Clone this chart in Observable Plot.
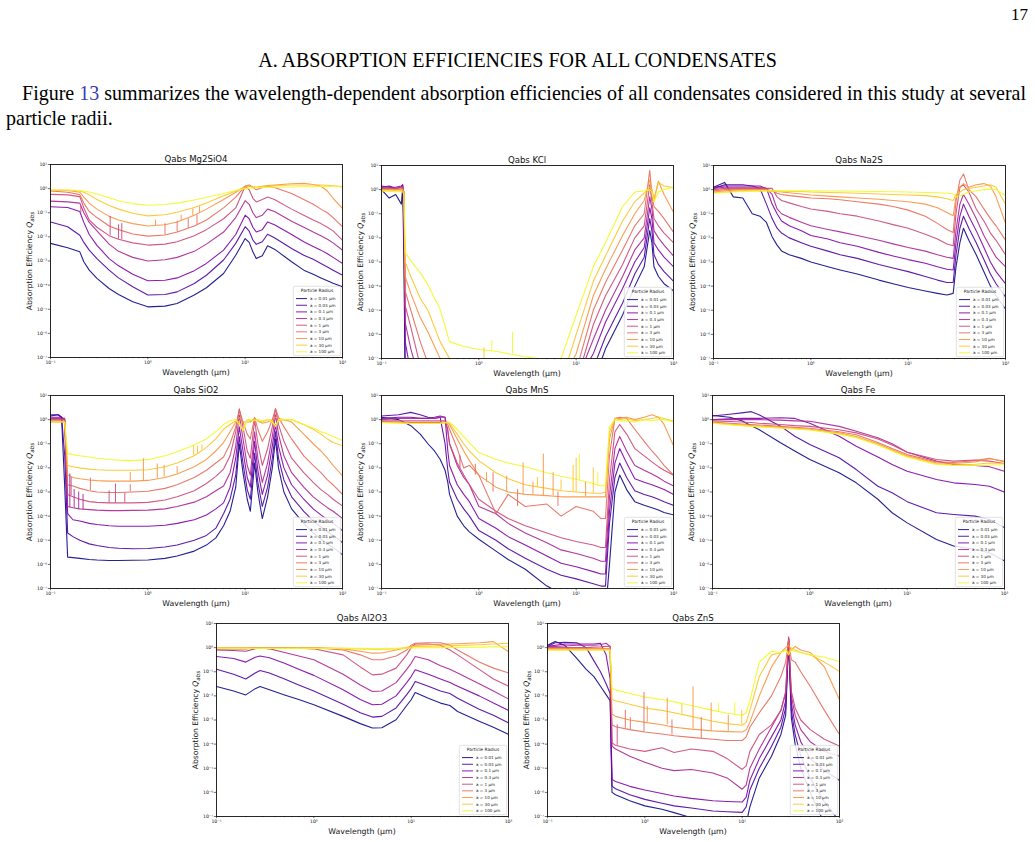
<!DOCTYPE html>
<html><head><meta charset="utf-8">
<script src="https://cdn.jsdelivr.net/npm/d3@7"></script>
<script src="https://cdn.jsdelivr.net/npm/@observablehq/plot@0.6"></script>
<style>
html,body{margin:0;padding:0;background:#fff;}
#page{position:relative;width:1035px;height:842px;overflow:hidden;font-family:"Liberation Serif","Times New Roman",serif;color:#000;}
.txt{position:absolute;white-space:nowrap;line-height:1;transform:translateY(-50%);}
.lnk{color:#3b3bb0;}
.ptitle,.xlab,.ylab{position:absolute;font-family:"DejaVu Sans",sans-serif;white-space:nowrap;color:#111;}
.ptitle{font-size:8.6px;transform:translate(-50%,-50%);}
.xlab{font-size:7.8px;transform:translate(-50%,-50%);}
.ylab{font-size:7.6px;transform:translate(-50%,-50%) rotate(-90deg);}
.ylab sub{font-size:5.6px;vertical-align:-1.5px;}
svg.leg{position:absolute;overflow:visible;}
</style></head>
<body><div id="page">
<div class="txt" id="pageno" style="top:14px;font-size:17px;">17</div>
<div class="txt" id="heading" style="top:60px;font-size:16px;">A. ABSORPTION EFFICIENCIES FOR ALL CONDENSATES</div>
<div class="txt" id="p1" style="top:93px;left:22px;font-size:18px;">Figure <span class="lnk">13</span> summarizes the wavelength-dependent absorption efficiencies of all condensates considered in this study at several</div>
<div class="txt" id="p2" style="top:118px;left:6px;font-size:18px;">particle radii.</div>
</div>
<script>
// ---------- shared series definitions ----------
const radius_labels = ["a = 0.01 μm","a = 0.03 μm","a = 0.1 μm","a = 0.3 μm","a = 1 μm","a = 3 μm","a = 10 μm","a = 30 μm","a = 100 μm"];
const radius_colors = ["#0d0887","#4c02a1","#7e03a8","#a92395","#cc4778","#e56b5d","#f89441","#fdc328","#f0f921"];

// ---------- data: wavelength grid (μm) and log10(Qabs) per radius (rows in radius order) ----------
const mg2sio4_wl = [0.1,0.15,0.2,0.22,0.25,0.3,0.4,0.5,0.7,1,1.5,2,3,4,6,8,10,11,12,13,15,17,20,30,40,50,60,70,80,100];
const mg2sio4_logQ = [
[-2.27,-2.45,-2.62,-3.03,-3.38,-3.72,-4.14,-4.39,-4.69,-4.9,-4.87,-4.76,-4.41,-4.11,-3.52,-2.76,-2.07,-2.23,-2.62,-2.9,-2.78,-2.37,-2.51,-3.03,-3.38,-3.55,-3.7,-3.82,-3.92,-4.07],
[-1.38,-1.58,-1.93,-2.23,-2.55,-2.9,-3.38,-3.7,-4.07,-4.41,-4.39,-4.28,-3.93,-3.59,-2.96,-2.27,-1.58,-1.76,-2.13,-2.31,-2.2,-1.89,-2.04,-2.48,-2.76,-2.93,-3.1,-3.25,-3.38,-3.59],
[-0.75,-0.78,-0.95,-1.4,-1.9,-2.35,-2.9,-3.2,-3.55,-3.82,-3.8,-3.7,-3.4,-3.1,-2.55,-1.9,-1.1,-1.25,-1.6,-1.8,-1.7,-1.38,-1.5,-1.9,-2.2,-2.4,-2.55,-2.7,-2.85,-3.1],
[-0.52,-0.55,-0.6,-1.0,-1.4,-1.75,-2.3,-2.6,-2.85,-3.0,-2.95,-2.85,-2.6,-2.3,-1.8,-1.2,-0.5,-0.65,-1.0,-1.2,-1.1,-0.85,-0.95,-1.35,-1.6,-1.8,-1.95,-2.1,-2.25,-2.55],
[-0.24,-0.26,-0.33,-0.8,-1.3,-1.6,-1.95,-2.1,-2.25,-2.34,-2.3,-2.2,-1.95,-1.7,-1.25,-0.8,0.1,-0.05,-0.4,-0.55,-0.45,-0.35,-0.45,-0.85,-1.1,-1.3,-1.45,-1.6,-1.75,-2.14],
[-0.1,-0.15,-0.25,-0.6,-0.95,-1.2,-1.55,-1.7,-1.88,-1.97,-1.92,-1.8,-1.55,-1.3,-0.8,-0.35,0.1,0.15,0.05,-0.05,0.05,0.1,0.05,-0.2,-0.45,-0.65,-0.85,-1.0,-1.2,-1.58],
[-0.07,-0.08,-0.15,-0.35,-0.6,-0.85,-1.15,-1.3,-1.45,-1.55,-1.5,-1.38,-1.1,-0.85,-0.45,-0.15,0.1,0.12,0.08,0.05,0.1,0.13,0.15,0.2,0.22,0.17,0.1,-0.1,-0.4,-0.82],
[-0.07,-0.07,-0.1,-0.15,-0.25,-0.45,-0.7,-0.85,-1.02,-1.13,-1.08,-0.98,-0.78,-0.6,-0.3,-0.1,0.05,0.1,0.07,0.05,0.08,0.1,0.12,0.15,0.15,0.15,0.15,0.14,0.12,0.07],
[-0.06,-0.06,-0.08,-0.1,-0.14,-0.22,-0.38,-0.5,-0.62,-0.69,-0.66,-0.6,-0.47,-0.36,-0.2,-0.08,0.0,0.02,0.03,0.04,0.05,0.05,0.06,0.07,0.08,0.08,0.09,0.09,0.1,0.1]
];
// narrow resonance spikes: radius index, wavelength, base and top log10(Qabs)
const mg2sio4_spikes = [
{r:4,wl:0.205,lo:-1.0,hi:-0.72},{r:4,wl:0.41,lo:-1.95,hi:-1.15},{r:4,wl:0.5,lo:-2.1,hi:-1.5},{r:4,wl:0.54,lo:-2.12,hi:-1.45},
{r:5,wl:1.5,lo:-1.92,hi:-1.45},{r:5,wl:2.0,lo:-1.8,hi:-1.35},{r:5,wl:2.6,lo:-1.65,hi:-1.25},{r:5,wl:3.2,lo:-1.5,hi:-1.1},
{r:6,wl:1.2,lo:-1.53,hi:-1.3},{r:6,wl:2.2,lo:-1.35,hi:-1.1},{r:6,wl:2.9,lo:-1.12,hi:-0.85},{r:6,wl:3.4,lo:-1.0,hi:-0.75}
];

const kcl_wl = [0.1,0.12,0.14,0.16,0.165,0.17,0.175,0.2,0.25,0.3,0.4,0.5,0.7,1,1.5,2,3,4,5,7,10,15,20,30,40,50,57,60,63,70,80,100];
const kcl_logQ = [
[0.0,-0.35,-0.2,-0.6,0.1,-3.0,-8,-8,-8,-8,-8,-8,-8,-8,-8,-8,-8,-8,-8,-8,-8,-8,-6.6,-5.2,-4.0,-3.2,-1.7,-2.2,-3.2,-3.6,-3.9,-4.2],
[0.1,0.15,0.05,0.1,0.2,-1.5,-7.5,-8,-8,-8,-8,-8,-8,-8,-8,-8,-8,-8,-8,-8,-8,-7.4,-6.1,-4.7,-3.5,-2.8,-1.2,-1.7,-2.7,-3.1,-3.4,-3.8],
[0.15,0.1,0.1,0.15,0.2,-0.5,-6.3,-7.6,-8,-8,-8,-8,-8,-8,-8,-8,-8,-8,-8,-8,-8,-6.8,-5.5,-4.1,-3.0,-2.4,-0.75,-1.2,-2.2,-2.5,-2.8,-3.2],
[0.1,0.1,0.05,0.1,0.15,-0.2,-5.5,-6.6,-8,-8,-8,-8,-8,-8,-8,-8,-8,-8,-8,-8,-8,-6.2,-5.0,-3.6,-2.5,-2.0,-0.3,-0.8,-1.7,-2.0,-2.3,-2.75],
[0.05,0.05,0.05,0.1,0.1,-0.1,-4.8,-5.7,-7.3,-8,-8,-8,-8,-8,-8,-8,-8,-8,-8,-8,-8,-5.6,-4.4,-3.1,-2.0,-1.5,0.2,-0.5,-1.2,-1.5,-1.8,-2.2],
[0.0,0.0,0.0,0.05,0.05,-0.1,-4.2,-5.0,-6.3,-7.2,-8,-8,-8,-8,-8,-8,-8,-8,-8,-8,-7.5,-5.0,-3.85,-2.5,-1.5,-1.0,0.8,-0.2,-0.7,-0.9,-1.2,-1.77],
[0.0,0.0,0.0,0.0,0.0,-0.1,-3.6,-4.3,-5.3,-5.9,-7.0,-8,-8,-8,-8,-8,-8,-8,-8,-8,-6.8,-4.4,-3.3,-1.9,-1.0,-0.45,0.4,0.0,-0.4,0.35,-0.2,-0.94],
[-0.05,-0.05,-0.05,-0.05,-0.05,-0.1,-3.0,-3.6,-4.5,-5.0,-6.3,-7.0,-8,-8,-8,-8,-8,-8,-8,-8,-6.0,-3.8,-2.75,-1.3,-0.5,-0.15,0.1,0.0,-0.5,0.3,0.15,0.08],
[-0.05,-0.05,-0.1,-0.08,-0.1,-0.2,-2.6,-2.95,-3.45,-3.95,-4.95,-6.3,-6.5,-6.63,-6.7,-6.8,-6.93,-7.0,-7.2,-7.0,-5.2,-3.2,-2.2,-0.7,-0.1,-0.05,0.0,-0.1,-0.5,-0.1,0.0,0.1]
];
const kcl_spikes = [
{r:8,wl:1.36,lo:-6.68,hi:-6.25},{r:8,wl:2.22,lo:-6.8,hi:-5.93},{r:7,wl:1.13,lo:-7.1,hi:-6.56}
];

const na2s_wl = [0.1,0.13,0.16,0.2,0.25,0.3,0.35,0.4,0.45,0.5,0.6,0.8,1,1.5,2,3,5,7,10,15,20,25,29,31,34,37,42,50,60,70,80,100];
const na2s_logQ = [
[0.1,0.3,-0.3,-0.35,-1.0,-1.1,-1.36,-1.95,-2.3,-2.54,-2.7,-2.85,-3.0,-3.2,-3.33,-3.5,-3.75,-3.9,-4.06,-4.2,-4.3,-4.37,-4.3,-3.2,-2.2,-1.6,-2.1,-2.7,-3.4,-4.0,-4.4,-4.95],
[0.05,0.2,0.2,0.2,0.15,0.05,-0.6,-1.2,-1.6,-1.8,-2.0,-2.2,-2.35,-2.55,-2.7,-2.85,-3.1,-3.25,-3.4,-3.6,-3.75,-3.85,-3.85,-2.7,-1.6,-1.1,-1.6,-2.2,-2.9,-3.5,-3.9,-4.45],
[0.1,0.15,0.15,0.15,0.15,0.15,0.05,-0.6,-1.0,-1.3,-1.5,-1.7,-1.9,-2.05,-2.2,-2.35,-2.6,-2.75,-2.9,-3.05,-3.2,-3.3,-3.33,-2.2,-1.1,-0.6,-1.1,-1.7,-2.4,-3.0,-3.4,-3.9],
[0.05,0.1,0.1,0.1,0.1,0.1,0.05,-0.2,-0.8,-1.0,-1.15,-1.35,-1.5,-1.65,-1.75,-1.9,-2.1,-2.25,-2.4,-2.55,-2.7,-2.8,-2.85,-1.7,-0.6,-0.2,-0.6,-1.2,-1.9,-2.4,-2.8,-3.2],
[0.0,0.05,0.05,0.05,0.05,0.05,0.05,0.05,-0.3,-0.45,-0.55,-0.7,-0.8,-0.9,-1.0,-1.1,-1.3,-1.45,-1.6,-1.85,-2.05,-2.25,-2.33,-1.0,0.1,0.2,-0.1,-0.8,-1.3,-1.8,-2.1,-2.7],
[-0.05,0.0,0.0,0.0,0.0,0.0,0.0,-0.05,-0.15,-0.2,-0.25,-0.3,-0.35,-0.38,-0.42,-0.5,-0.6,-0.7,-0.85,-1.1,-1.4,-1.65,-1.78,-0.5,0.4,0.65,0.0,-0.3,-0.8,-1.2,-1.5,-2.1],
[-0.1,-0.05,-0.02,0.0,0.0,0.0,-0.02,-0.05,-0.08,-0.1,-0.13,-0.18,-0.22,-0.27,-0.3,-0.35,-0.4,-0.45,-0.5,-0.6,-0.75,-0.95,-1.08,-0.3,0.1,0.25,0.1,0.2,0.25,0.15,-0.3,-1.4],
[-0.12,-0.1,-0.08,-0.05,-0.05,-0.05,-0.05,-0.05,-0.06,-0.07,-0.08,-0.08,-0.1,-0.12,-0.13,-0.15,-0.18,-0.2,-0.22,-0.25,-0.3,-0.38,-0.45,-0.2,-0.1,0.0,0.05,0.1,0.15,0.2,0.1,-0.6],
[-0.15,-0.12,-0.1,-0.08,-0.06,-0.05,-0.05,-0.05,-0.05,-0.05,-0.05,-0.05,-0.05,-0.06,-0.06,-0.07,-0.08,-0.09,-0.1,-0.12,-0.13,-0.15,-0.17,-0.3,-0.25,-0.2,-0.1,-0.05,0.0,0.02,0.0,-0.25]
];

const sio2_wl = [0.1,0.12,0.13,0.14,0.15,0.17,0.2,0.25,0.3,0.4,0.5,0.7,1,1.5,2,3,4,5,6,7,8,8.7,9.5,10.5,11.3,12.5,13.5,15,17,19,20.5,22,25,30,40,50,60,70,80,100];
const sio2_logQ = [
[0.15,0.2,0.1,-2.8,-5.7,-5.72,-5.75,-5.8,-5.82,-5.84,-5.84,-5.83,-5.82,-5.75,-5.65,-5.45,-5.2,-4.9,-4.4,-3.8,-2.8,-1.0,-2.2,-3.3,-3.8,-1.8,-3.0,-4.1,-3.2,-2.0,-0.8,-2.0,-3.0,-3.7,-4.3,-4.7,-4.95,-5.15,-5.3,-5.6],
[0.2,0.2,0.1,-1.5,-4.7,-4.85,-5.0,-5.15,-5.22,-5.3,-5.33,-5.35,-5.34,-5.28,-5.2,-5.0,-4.8,-4.5,-3.9,-3.3,-2.3,-0.7,-1.8,-2.9,-3.3,-1.4,-2.6,-3.6,-2.8,-1.6,-0.5,-1.6,-2.5,-3.2,-3.8,-4.2,-4.45,-4.65,-4.8,-5.1],
[0.1,0.1,0.1,0.0,-3.9,-4.15,-4.2,-4.3,-4.35,-4.4,-4.42,-4.42,-4.42,-4.38,-4.3,-4.15,-3.95,-3.7,-3.45,-2.8,-1.6,-0.3,-1.3,-2.4,-2.8,-0.9,-2.1,-3.1,-2.3,-1.1,-0.2,-1.1,-2.0,-2.7,-3.3,-3.7,-3.95,-4.15,-4.3,-4.6],
[0.05,0.05,0.05,0.05,-3.6,-3.65,-3.7,-3.73,-3.75,-3.77,-3.77,-3.76,-3.75,-3.7,-3.6,-3.42,-3.2,-2.95,-2.75,-2.2,-1.1,0.2,-0.8,-1.9,-2.3,-0.5,-1.6,-2.6,-1.8,-0.7,0.2,-0.6,-1.5,-2.2,-2.8,-3.2,-3.45,-3.65,-3.8,-4.1],
[0.0,0.0,0.0,0.0,-3.1,-3.2,-3.3,-3.4,-3.43,-3.45,-3.45,-3.45,-3.43,-3.33,-3.2,-2.95,-2.65,-2.35,-2.05,-1.5,-0.5,0.45,-0.3,-1.3,-1.6,0.0,-1.0,-1.9,-1.2,-0.3,0.45,-0.2,-0.9,-1.6,-2.2,-2.6,-2.9,-3.1,-3.3,-3.58],
[-0.05,-0.05,-0.05,-0.05,-2.7,-2.75,-2.85,-2.95,-3.0,-3.02,-3.02,-3.0,-2.97,-2.85,-2.7,-2.4,-2.1,-1.8,-1.55,-1.0,-0.3,0.4,-0.1,-0.6,-0.8,0.1,-0.4,-0.9,-0.5,0.0,0.45,0.1,-0.3,-0.8,-1.5,-1.9,-2.2,-2.5,-2.7,-3.1],
[-0.1,-0.1,-0.1,-0.1,-2.3,-2.4,-2.45,-2.5,-2.53,-2.55,-2.55,-2.55,-2.52,-2.4,-2.25,-1.95,-1.65,-1.3,-0.95,-0.5,-0.1,0.1,-0.1,-0.1,-0.1,0.05,-0.05,-0.15,-0.1,0.0,0.1,0.05,0.0,-0.1,-0.6,-1.0,-1.3,-1.6,-1.9,-2.33],
[-0.1,-0.1,-0.1,-0.1,-1.9,-1.95,-2.0,-2.05,-2.08,-2.1,-2.1,-2.1,-2.08,-1.95,-1.8,-1.5,-1.15,-0.8,-0.4,-0.2,-0.05,-0.1,-0.45,0.0,-0.05,0.0,-0.05,-0.1,0.0,-0.05,-0.3,-0.05,0.0,0.0,-0.2,-0.4,-0.6,-0.8,-0.95,-1.08],
[-0.1,-0.1,-0.1,-0.1,-1.4,-1.45,-1.5,-1.55,-1.6,-1.65,-1.68,-1.7,-1.66,-1.5,-1.33,-1.05,-0.8,-0.5,-0.2,-0.05,0.0,-0.2,-0.45,0.0,0.0,-0.05,0.0,-0.05,0.0,-0.1,-0.25,0.0,0.0,0.0,-0.2,-0.35,-0.5,-0.6,-0.7,-0.87]
];
const sio2_spikes = [
{r:3,wl:0.158,lo:-3.65,hi:-2.25},{r:4,wl:0.163,lo:-3.15,hi:-2.4},{r:3,wl:0.175,lo:-3.67,hi:-2.9},{r:3,wl:0.195,lo:-3.7,hi:-3.0},{r:3,wl:0.216,lo:-3.72,hi:-3.1},
{r:5,wl:0.257,lo:-2.95,hi:-2.42},{r:4,wl:0.4,lo:-3.45,hi:-2.95},{r:4,wl:0.465,lo:-3.45,hi:-2.67},{r:5,wl:0.66,lo:-3.0,hi:-2.7},{r:4,wl:0.58,lo:-3.45,hi:-3.05},
{r:6,wl:0.66,lo:-2.55,hi:-2.19},{r:6,wl:0.9,lo:-2.53,hi:-1.62},{r:6,wl:1.25,lo:-2.45,hi:-1.84},{r:6,wl:1.47,lo:-2.38,hi:-1.9},{r:6,wl:2.0,lo:-2.25,hi:-1.95},
{r:7,wl:2.96,lo:-1.5,hi:-1.08},{r:7,wl:3.24,lo:-1.4,hi:-1.1},{r:7,wl:3.6,lo:-1.25,hi:-1.05}
];

const mns_wl = [0.1,0.15,0.2,0.25,0.3,0.35,0.4,0.45,0.48,0.5,0.6,0.7,0.8,1,1.5,2,3,5,7,10,15,18,20,22,25,28,33,40,50,60,70,80,100];
const mns_logQ = [
[0.1,0.0,-0.25,-0.6,-1.0,-1.3,-1.64,-2.1,-2.6,-3.1,-4.0,-4.4,-4.65,-4.96,-5.45,-5.8,-6.2,-6.9,-7.2,-7.5,-7.8,-8,-8,-6.0,-3.0,-2.3,-2.9,-3.4,-3.55,-3.65,-3.75,-3.85,-3.95],
[0.15,0.2,0.3,0.2,0.1,0.05,0.1,-1.0,-2.1,-2.6,-3.3,-3.7,-4.0,-4.6,-5.0,-5.35,-5.75,-6.2,-6.45,-6.6,-6.8,-6.9,-6.9,-4.3,-2.4,-1.8,-2.4,-2.95,-3.1,-3.2,-3.3,-3.4,-3.55],
[0.05,0.1,0.1,0.05,0.05,0.1,0.15,0.1,-1.3,-1.9,-2.7,-3.1,-3.4,-4.1,-4.5,-4.85,-5.2,-5.65,-5.95,-6.1,-6.3,-6.4,-6.4,-3.8,-1.8,-1.2,-1.8,-2.45,-2.6,-2.7,-2.8,-2.9,-3.1],
[0.0,0.05,0.05,0.05,0.05,0.05,0.1,0.1,-0.5,-1.0,-1.9,-2.4,-2.7,-3.6,-3.9,-4.3,-4.7,-5.1,-5.4,-5.55,-5.75,-5.87,-5.87,-3.2,-1.2,-0.7,-1.3,-1.9,-2.1,-2.25,-2.4,-2.55,-2.75],
[-0.05,-0.05,-0.05,-0.05,-0.05,-0.05,-0.05,-0.05,-0.4,-1.0,-1.8,-2.3,-2.7,-3.3,-3.8,-4.1,-4.4,-4.7,-4.9,-5.05,-5.2,-5.3,-5.3,-2.5,-0.5,-0.2,-0.6,-1.2,-1.5,-1.75,-1.95,-2.1,-2.3],
[-0.08,-0.1,-0.12,-0.12,-0.12,-0.12,-0.12,-0.1,-0.2,-0.4,-1.2,-2.0,-1.9,-2.3,-3.9,-3.1,-3.6,-3.5,-4.0,-3.6,-3.8,-4.1,-4.1,-1.5,0.05,0.1,0.05,-0.4,-0.9,-1.3,-1.6,-1.9,-2.3],
[-0.1,-0.12,-0.15,-0.15,-0.15,-0.15,-0.15,-0.12,-0.1,-0.2,-0.8,-1.3,-1.7,-2.3,-2.8,-3.0,-3.1,-3.15,-3.2,-3.2,-3.2,-3.2,-3.2,-0.8,0.05,0.05,0.1,0.0,0.1,0.2,0.1,-0.2,-1.08],
[-0.12,-0.14,-0.16,-0.16,-0.16,-0.16,-0.15,-0.13,-0.12,-0.15,-0.6,-1.0,-1.3,-1.7,-2.2,-2.45,-2.7,-2.85,-2.95,-3.0,-3.05,-3.05,-3.0,-0.5,0.05,0.0,0.05,-0.05,0.0,0.05,0.1,0.05,-0.05],
[-0.12,-0.14,-0.16,-0.16,-0.16,-0.16,-0.15,-0.13,-0.12,-0.1,-0.4,-0.7,-0.95,-1.36,-1.65,-1.8,-1.95,-2.2,-2.35,-2.47,-2.65,-2.75,-2.7,-0.3,0.0,-0.05,-0.05,-0.1,0.0,-0.05,0.0,0.0,-0.1]
];
const mns_spikes = [
{r:6,wl:4.6,lo:-3.15,hi:-1.43},{r:6,wl:2.85,lo:-3.1,hi:-1.8},{r:7,wl:10,lo:-3.0,hi:-1.6},{r:8,wl:10.8,lo:-2.5,hi:-1.45},{r:7,wl:9.3,lo:-3.0,hi:-1.9},
{r:5,wl:1.4,lo:-3.0,hi:-2.2},{r:5,wl:0.92,lo:-2.3,hi:-1.85},{r:4,wl:0.64,lo:-2.0,hi:-1.5},{r:6,wl:1.93,lo:-3.0,hi:-2.35},{r:6,wl:5.8,lo:-3.15,hi:-2.2},
{r:7,wl:15,lo:-3.05,hi:-2.0},{r:8,wl:16.7,lo:-2.7,hi:-2.2},{r:6,wl:1.2,lo:-2.6,hi:-2.2},{r:6,wl:3.6,lo:-3.1,hi:-2.6},{r:7,wl:7,lo:-2.95,hi:-2.5},
{r:5,wl:2.5,lo:-3.6,hi:-2.9},{r:5,wl:6.5,lo:-3.6,hi:-3.0},{r:6,wl:12.5,lo:-3.2,hi:-2.6},{r:7,wl:4,lo:-2.8,hi:-2.4}
];

const fe_wl = [0.1,0.15,0.2,0.25,0.3,0.5,0.7,1,2,3,5,7,10,20,30,50,70,100];
const fe_logQ = [
[0.17,0.1,-0.05,-0.25,-0.41,-0.96,-1.3,-1.65,-2.2,-2.62,-3.3,-3.86,-4.28,-4.97,-5.24,-5.38,-5.52,-5.86],
[0.15,0.22,0.28,0.33,0.2,-0.27,-0.69,-1.03,-1.58,-2.07,-2.76,-3.03,-3.4,-3.86,-3.93,-4.0,-4.14,-4.48],
[0.0,0.03,0.05,0.05,0.05,0.08,0.05,-0.15,-0.69,-1.1,-1.55,-1.86,-2.14,-2.48,-2.62,-2.69,-2.76,-3.0],
[0.0,0.0,0.0,0.0,0.0,-0.02,-0.05,-0.07,-0.28,-0.48,-0.75,-1.0,-1.35,-1.72,-1.86,-1.9,-1.95,-2.14],
[-0.05,-0.08,-0.1,-0.12,-0.15,-0.2,-0.25,-0.28,-0.42,-0.55,-0.8,-1.05,-1.35,-1.65,-1.72,-1.68,-1.72,-1.82],
[-0.1,-0.15,-0.18,-0.2,-0.22,-0.28,-0.32,-0.36,-0.5,-0.63,-0.95,-1.2,-1.45,-1.75,-1.78,-1.7,-1.6,-1.75],
[-0.12,-0.18,-0.22,-0.25,-0.27,-0.32,-0.36,-0.4,-0.55,-0.7,-1.0,-1.25,-1.5,-1.8,-1.82,-1.75,-1.62,-1.72],
[-0.14,-0.2,-0.24,-0.27,-0.29,-0.34,-0.38,-0.42,-0.58,-0.73,-1.03,-1.28,-1.53,-1.83,-1.88,-1.85,-1.8,-1.82],
[-0.15,-0.21,-0.25,-0.28,-0.3,-0.35,-0.39,-0.43,-0.6,-0.75,-1.05,-1.3,-1.56,-1.86,-1.9,-1.9,-1.88,-1.87]
];

const al2o3_wl = [0.1,0.15,0.2,0.25,0.28,0.35,0.5,0.7,1,2,3,4,5,7,9,10,11,15,20,25,30,50,70,100];
const al2o3_logQ = [
[-1.61,-1.8,-1.96,-1.7,-1.61,-1.75,-1.96,-2.15,-2.37,-2.85,-3.15,-3.33,-3.32,-2.99,-2.4,-2.16,-1.86,-2.1,-2.3,-2.4,-2.65,-3.05,-3.3,-3.6],
[-0.9,-1.1,-1.3,-1.05,-0.95,-1.05,-1.3,-1.55,-1.8,-2.35,-2.7,-2.88,-2.85,-2.5,-1.95,-1.7,-1.4,-1.6,-1.8,-1.9,-2.1,-2.55,-2.8,-3.12],
[-0.37,-0.45,-0.6,-0.4,-0.35,-0.42,-0.65,-0.9,-1.15,-1.75,-2.15,-2.37,-2.35,-2.0,-1.45,-1.2,-0.92,-1.1,-1.3,-1.45,-1.6,-2.0,-2.3,-2.6],
[-0.1,-0.12,-0.15,-0.05,0.0,-0.05,-0.2,-0.35,-0.5,-1.1,-1.55,-1.82,-1.8,-1.45,-0.9,-0.65,-0.37,-0.5,-0.75,-0.9,-1.05,-1.5,-1.8,-2.13],
[-0.05,-0.05,-0.05,0.0,0.0,0.0,0.0,-0.02,-0.05,-0.3,-0.8,-1.13,-1.1,-0.85,-0.3,0.0,0.15,0.15,0.1,-0.1,-0.3,-0.9,-1.3,-1.6],
[-0.02,-0.02,-0.02,0.0,0.0,0.0,0.0,0.0,0.0,-0.1,-0.3,-0.5,-0.5,-0.35,-0.1,0.1,0.18,0.2,0.2,0.1,-0.1,-0.6,-0.85,-1.05],
[-0.02,-0.02,-0.02,-0.02,-0.02,-0.02,-0.02,0.0,0.0,-0.05,-0.15,-0.23,-0.22,-0.1,0.0,0.05,0.1,0.12,0.14,0.15,0.16,0.2,0.25,-0.17],
[-0.02,-0.02,-0.02,-0.02,-0.02,-0.02,-0.02,-0.02,-0.02,-0.03,-0.05,-0.07,-0.07,-0.05,0.0,0.03,0.05,0.06,0.07,0.08,0.09,0.12,0.15,0.18],
[-0.03,-0.03,-0.03,-0.03,-0.03,-0.03,-0.03,-0.03,-0.03,-0.03,-0.03,-0.04,-0.04,-0.03,-0.02,-0.02,-0.01,0.0,0.0,0.01,0.01,0.02,0.03,0.04]
];

const zns_wl = [0.1,0.12,0.15,0.2,0.25,0.3,0.35,0.4,0.44,0.46,0.5,0.7,1,1.5,2,3,5,7,10,11,12,15,20,25,28,30,32,35,40,50,70,100];
const zns_logQ = [
[0.1,0.25,0.1,-0.45,-0.9,-1.2,-1.6,-1.95,-2.2,-6.0,-6.1,-6.35,-6.56,-6.7,-6.84,-7.05,-7.3,-7.5,-7.6,-7.3,-6.6,-5.4,-4.5,-3.6,-2.8,0.3,-2.9,-4.0,-5.0,-6.0,-7.3,-8],
[0.05,0.2,0.22,0.2,0.0,-0.55,-1.0,-1.5,-1.9,-5.74,-5.85,-6.1,-6.29,-6.45,-6.56,-6.65,-6.77,-6.8,-6.83,-6.6,-5.9,-5.0,-4.1,-3.3,-2.5,0.35,-2.6,-3.6,-4.5,-5.4,-6.4,-7.2],
[0.05,0.1,0.15,0.15,0.15,0.15,0.18,-0.3,-1.3,-5.46,-5.55,-5.75,-5.9,-6.05,-6.15,-6.25,-6.35,-6.38,-6.4,-6.2,-5.5,-4.6,-3.7,-3.0,-2.2,0.4,-2.3,-3.2,-3.9,-4.6,-5.1,-5.5],
[0.05,0.05,0.07,0.1,0.1,0.1,0.12,0.18,0.05,-4.08,-4.2,-4.5,-4.75,-5.0,-5.1,-5.05,-5.2,-5.4,-5.87,-5.7,-5.0,-4.2,-3.3,-2.6,-1.9,0.4,-2.0,-2.8,-3.4,-3.9,-4.3,-4.5],
[0.0,0.0,0.0,0.0,0.0,0.02,0.03,0.05,0.05,-3.95,-4.05,-4.2,-4.3,-4.15,-4.35,-4.2,-4.3,-4.6,-5.05,-4.9,-4.3,-3.6,-3.2,-2.6,-1.8,0.45,-1.8,-2.5,-3.0,-3.4,-3.8,-4.08],
[-0.05,-0.05,-0.05,-0.05,-0.05,-0.05,-0.05,-0.05,-0.05,-3.2,-3.28,-3.4,-3.5,-3.58,-3.65,-3.72,-3.8,-3.85,-3.85,-3.7,-3.3,-2.7,-2.0,-1.2,-0.6,0.3,-0.5,-0.6,-1.0,-1.6,-2.6,-3.6],
[-0.05,-0.05,-0.05,-0.05,-0.05,-0.05,-0.05,-0.05,-0.05,-2.75,-2.85,-3.0,-3.1,-3.2,-3.3,-3.38,-3.45,-3.48,-3.5,-3.4,-3.1,-2.0,-0.8,-0.2,0.0,0.1,-0.1,0.05,-0.1,-0.2,-0.8,-2.16],
[-0.1,-0.1,-0.1,-0.1,-0.1,-0.1,-0.1,-0.1,-0.1,-2.15,-2.2,-2.35,-2.5,-2.6,-2.7,-2.85,-3.05,-3.15,-3.22,-3.1,-2.6,-1.2,-0.3,-0.2,-0.1,-0.2,0.0,-0.1,-0.2,-0.3,-0.6,-0.99],
[-0.1,-0.1,-0.1,-0.1,-0.1,-0.1,-0.1,-0.1,-0.1,-1.7,-1.75,-1.9,-2.05,-2.15,-2.25,-2.4,-2.6,-2.72,-2.8,-2.7,-2.2,-0.6,-0.15,-0.2,-0.1,-0.3,-0.1,-0.15,-0.2,-0.3,-0.4,-0.58]
];
const zns_spikes = [
{r:5,wl:0.98,lo:-3.5,hi:-1.86},{r:6,wl:1.7,lo:-3.2,hi:-2.1},{r:6,wl:3.13,lo:-3.38,hi:-1.63},{r:8,wl:5.7,lo:-2.65,hi:-2.3},{r:8,wl:8.4,lo:-2.78,hi:-2.28},
{r:5,wl:0.63,lo:-3.35,hi:-2.6},{r:5,wl:0.71,lo:-3.4,hi:-2.9},{r:4,wl:0.52,lo:-4.05,hi:-3.2},{r:5,wl:1.9,lo:-3.62,hi:-3.0},{r:5,wl:3.8,lo:-3.77,hi:-2.9},
{r:7,wl:9.9,lo:-3.2,hi:-2.6},{r:6,wl:7.2,lo:-3.47,hi:-2.8},{r:6,wl:1.06,lo:-3.1,hi:-2.45},{r:6,wl:4.8,lo:-3.45,hi:-2.3},{r:7,wl:2.4,lo:-2.75,hi:-2.35}
];

// ---------- axis tick values ----------
const x_major_ticks = [0.1, 1, 10, 100];
const x_minor_ticks = [0.2,0.3,0.4,0.5,0.6,0.7,0.8,0.9,2,3,4,5,6,7,8,9,20,30,40,50,60,70,80,90];
const y_major_ticks = [1e-7,1e-6,1e-5,1e-4,1e-3,1e-2,1e-1,1,10];

// ---------- layout ----------
const panels = [
  {title:"Qabs Mg2SiO4", left:50,  top:164, wl:mg2sio4_wl, logQ:mg2sio4_logQ, spikes:mg2sio4_spikes},
  {title:"Qabs KCl",     left:381, top:165, wl:kcl_wl,     logQ:kcl_logQ,     spikes:kcl_spikes},
  {title:"Qabs Na2S",    left:713, top:165, wl:na2s_wl,    logQ:na2s_logQ,    spikes:[]},
  {title:"Qabs SiO2",    left:50,  top:395, wl:sio2_wl,    logQ:sio2_logQ,    spikes:sio2_spikes},
  {title:"Qabs MnS",     left:381, top:395, wl:mns_wl,     logQ:mns_logQ,     spikes:mns_spikes},
  {title:"Qabs Fe",      left:712, top:395, wl:fe_wl,      logQ:fe_logQ,      spikes:[]},
  {title:"Qabs Al2O3",   left:216, top:623, wl:al2o3_wl,   logQ:al2o3_logQ,   spikes:[]},
  {title:"Qabs ZnS",     left:547, top:623, wl:zns_wl,     logQ:zns_logQ,     spikes:zns_spikes}
];
const FW = 292, FH = 193, ML = 24, MR = 4, MT = 4, MB = 12;
const SUP = {"-":"⁻","0":"⁰","1":"¹","2":"²","3":"³","4":"⁴","5":"⁵","6":"⁶","7":"⁷","8":"⁸","9":"⁹"};
const pow10 = d => "10" + String(Math.round(Math.log10(d))).replace(/./g, c => SUP[c]);

const page = document.getElementById("page");

// fit page text widths to the reference typesetting
function fitWidth(el, target) {
  const w = el.getBoundingClientRect().width;
  el.style.fontSize = (parseFloat(getComputedStyle(el).fontSize) * target / w) + "px";
}
const heading = document.getElementById("heading");
fitWidth(heading, 519);
heading.style.left = (517.5 - heading.getBoundingClientRect().width / 2) + "px";
const p1 = document.getElementById("p1");
fitWidth(p1, 1005);
document.getElementById("p2").style.fontSize = p1.style.fontSize;
const pn = document.getElementById("pageno");
pn.style.left = (1028 - pn.getBoundingClientRect().width) + "px";

panels.forEach(p => {
  const rows = [];
  p.logQ.forEach((series, i) => {
    if (series.length !== p.wl.length) console.warn(p.title, i, series.length, p.wl.length);
    series.forEach((v, j) => rows.push({wl: p.wl[j], q: Math.pow(10, v), radius: radius_labels[i]}));
  });
  const spikeRows = p.spikes.map(s => ({wl: s.wl, lo: Math.pow(10, s.lo), hi: Math.pow(10, s.hi), radius: radius_labels[s.r]}));
  const chart = Plot.plot({
    width: FW + ML + MR, height: FH + MT + MB,
    marginLeft: ML, marginRight: MR, marginTop: MT, marginBottom: MB,
    style: {fontFamily: "DejaVu Sans, sans-serif", fontSize: "4.6px", color: "#111", background: "transparent", overflow: "visible"},
    x: {type: "log", domain: [0.1, 100]},
    y: {type: "log", domain: [1e-7, 10]},
    color: {domain: radius_labels, range: radius_colors},
    marks: [
      Plot.line(rows, {x: "wl", y: "q", z: "radius", stroke: "radius", strokeWidth: 1.1, strokeOpacity: 0.9, clip: true}),
      Plot.ruleX(spikeRows, {x: "wl", y1: "lo", y2: "hi", stroke: "radius", strokeWidth: 1, strokeOpacity: 0.9, clip: true}),
      Plot.axisX({ticks: x_minor_ticks, tickSize: 1.2, tickFormat: () => "", label: null, strokeWidth: 0.5}),
      Plot.axisX({ticks: x_major_ticks, tickSize: 2.2, tickPadding: 1.2, tickFormat: pow10, label: null, strokeWidth: 0.6}),
      Plot.axisY({ticks: y_major_ticks, tickSize: 2.2, tickPadding: 1.2, tickFormat: pow10, label: null, strokeWidth: 0.6}),
      Plot.frame({stroke: "#111", strokeWidth: 0.9})
    ]
  });
  chart.style.position = "absolute";
  chart.style.left = (p.left - ML) + "px";
  chart.style.top = (p.top - MT) + "px";
  page.appendChild(chart);

  const t = document.createElement("div");
  t.className = "ptitle"; t.textContent = p.title;
  t.style.left = (p.left + FW / 2) + "px"; t.style.top = (p.top - 5.5) + "px";
  page.appendChild(t);

  const xl = document.createElement("div");
  xl.className = "xlab"; xl.textContent = "Wavelength (μm)";
  xl.style.left = (p.left + FW / 2) + "px"; xl.style.top = (p.top + FH + 15) + "px";
  page.appendChild(xl);

  const yl = document.createElement("div");
  yl.className = "ylab"; yl.innerHTML = "Absorption Efficiency <i>Q</i><sub><i>abs</i></sub>";
  yl.style.left = (p.left - 20) + "px"; yl.style.top = (p.top + FH / 2) + "px";
  page.appendChild(yl);

  // legend box (lower right inside the frame)
  const LW = 48, LH = 70;
  const lg = d3.select(page).append("svg").attr("class", "leg")
    .attr("width", LW).attr("height", LH)
    .style("left", (p.left + FW - LW - 1.5) + "px").style("top", (p.top + FH - LH - 1.5) + "px");
  lg.append("rect").attr("x", 0.3).attr("y", 0.3).attr("width", LW - 0.6).attr("height", LH - 0.6)
    .attr("rx", 1.5).attr("fill", "#fff").attr("fill-opacity", 0.85).attr("stroke", "#cfcfcf").attr("stroke-width", 0.6);
  lg.append("text").attr("x", LW / 2).attr("y", 6.2).attr("text-anchor", "middle")
    .attr("font-family", "DejaVu Sans, sans-serif").attr("font-size", 4.4).attr("fill", "#222").text("Particle Radius");
  radius_labels.forEach((lab, i) => {
    const yy = 12.6 + i * 6.65;
    lg.append("line").attr("x1", 3).attr("x2", 14).attr("y1", yy).attr("y2", yy)
      .attr("stroke", radius_colors[i]).attr("stroke-width", 1).attr("stroke-opacity", 0.9);
    lg.append("text").attr("x", 17).attr("y", yy + 1.5)
      .attr("font-family", "DejaVu Sans, sans-serif").attr("font-size", 4.1).attr("fill", "#222").text(lab);
  });
});
</script>
</body></html>
